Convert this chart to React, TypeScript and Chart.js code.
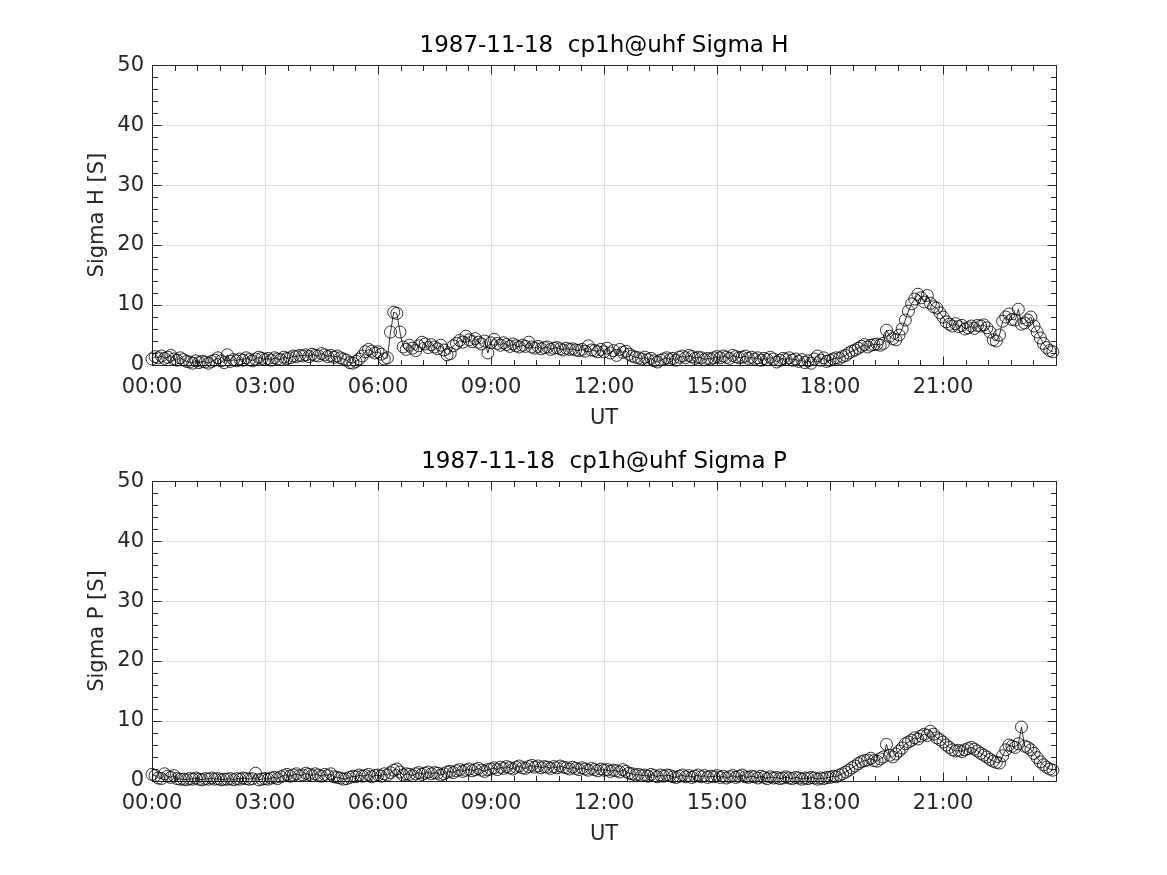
import React, { useEffect, useRef } from 'react';
import { Chart, registerables } from 'chart.js';

Chart.register(...registerables);

// 5-minute samples, 00:00 .. 23:55 UT
const SAMPLE_MINUTES = 5;

const sigmaH: number[] = [
  1.0, 1.4, 1.2, 1.5, 1.1, 1.3, 1.6, 1.0, 0.8, 1.2, 0.9, 0.6,
  0.5, 0.3, 0.7, 0.4, 0.6, 0.5, 0.3, 0.6, 0.8, 1.2, 0.7, 0.4,
  1.7, 0.6, 0.9, 0.7, 1.0, 0.8, 1.2, 0.9, 0.7, 1.0, 1.3, 1.1,
  0.9, 1.1, 0.8, 1.2, 1.0, 0.9, 1.3, 1.1, 1.2, 1.5, 1.4, 1.6,
  1.5, 1.7, 1.4, 1.8, 1.6, 1.5, 1.9, 1.7, 1.4, 1.6, 1.3, 1.5,
  1.2, 1.0, 0.8, 0.4, 0.3, 0.6, 1.0, 1.5, 2.2, 2.6, 2.3, 2.0,
  2.2, 1.8, 1.0, 1.2, 5.5, 8.8, 8.6, 5.5, 3.0, 2.6, 3.3, 2.8,
  2.4, 3.2, 3.8, 3.5, 2.9, 3.4, 3.0, 2.7, 3.3, 2.5, 1.7, 1.9,
  3.2, 3.6, 4.1, 3.8, 4.8, 4.2, 3.9, 4.4, 3.8, 3.5, 4.0, 2.0,
  3.7, 4.3, 3.6, 3.3, 3.7, 3.4, 3.1, 3.5, 3.2, 3.0, 3.3, 3.1,
  3.8, 3.0, 2.8, 3.1, 2.7, 2.9, 3.0, 2.6, 2.8, 2.9, 2.7, 2.5,
  2.8, 2.6, 2.7, 2.5, 2.4, 2.6, 2.3, 3.2, 2.5, 2.4, 2.2, 2.6,
  2.2, 2.8, 2.0, 2.4, 1.6, 2.6, 2.1, 2.3, 1.8, 1.5, 1.3, 1.2,
  1.0, 1.3, 0.9, 1.1, 0.7, 0.5, 0.8, 1.0, 1.2, 0.9, 1.1, 0.8,
  1.3, 1.5, 1.2, 1.6, 1.4, 1.1, 1.3, 1.2, 0.9, 1.1, 1.0, 1.2,
  1.4, 1.2, 1.5, 1.3, 1.1, 1.6, 1.4, 1.2, 1.3, 1.5, 1.1, 1.3,
  1.0, 1.2, 0.8, 1.1, 0.9, 1.3, 1.0, 0.5, 0.8, 1.1, 0.9, 1.2,
  0.8, 1.0, 0.6, 0.9, 0.4, 0.7, 0.3, 1.0, 1.5, 0.8, 1.2, 0.6,
  0.8, 1.0, 1.2, 1.1, 1.4, 1.6, 2.0, 2.3, 2.5, 2.8, 3.1, 3.4,
  3.0, 3.3, 3.4, 3.5, 3.3, 3.6, 5.8, 4.8, 4.4, 4.2, 5.0, 6.0,
  7.5, 9.0, 10.2, 11.0, 11.8, 11.2, 10.5, 11.6, 10.3, 9.7, 9.5, 8.7,
  8.0, 7.2, 6.8, 6.5, 6.9, 6.4, 6.6, 6.0, 6.2, 6.5, 6.1, 6.6,
  6.5, 6.7, 6.2, 5.5, 4.2, 4.0, 5.0, 7.3, 8.0, 8.5, 7.6, 7.5,
  9.3, 6.8, 7.0, 7.5, 8.0, 6.5, 5.5, 4.5, 3.6, 2.9, 2.4, 2.2,
];

const sigmaP: number[] = [
  1.1, 0.9, 0.5, 0.4, 1.2, 0.8, 0.6, 0.9, 0.4, 0.3, 0.3, 0.2,
  0.4, 0.3, 0.5, 0.3, 0.2, 0.4, 0.3, 0.5, 0.3, 0.4, 0.2, 0.3,
  0.3, 0.4, 0.2, 0.4, 0.3, 0.5, 0.4, 0.3, 0.4, 1.3, 0.2, 0.3,
  0.4, 0.3, 0.5, 0.6, 0.4, 0.7, 0.9, 1.1, 0.8, 1.0, 1.2, 0.9,
  1.0, 1.3, 1.1, 0.9, 1.2, 1.0, 0.8, 1.1, 0.9, 1.2, 0.7, 0.6,
  0.5, 0.3, 0.4, 0.6, 0.8, 0.7, 1.0, 0.8, 0.9, 1.1, 0.7, 0.9,
  1.0, 0.8, 1.2, 1.0, 1.4, 1.8, 2.0, 1.5, 1.0, 1.2, 1.1, 0.9,
  1.2, 1.4, 1.1, 1.3, 1.5, 1.2, 1.4, 1.3, 1.0, 1.2, 1.5, 1.6,
  1.4, 1.7, 1.9, 1.6, 1.8, 2.0, 1.7, 1.9, 2.1, 1.8, 1.6, 1.9,
  2.0, 2.2, 1.9, 2.3, 2.1, 2.4, 2.2, 2.0, 2.3, 2.5, 2.2, 2.1,
  2.4, 2.6, 2.3, 2.5, 2.2, 2.4, 2.3, 2.1, 2.4, 2.2, 2.5, 2.3,
  2.2, 2.0, 2.3, 2.1, 1.9, 2.2, 2.0, 1.8, 2.1, 1.9, 1.7, 2.0,
  1.8, 1.9, 1.6, 1.8, 1.7, 1.5, 1.9, 1.6, 1.3, 1.2, 1.0, 1.1,
  0.9, 1.0, 0.8, 1.1, 0.9, 0.7, 1.0, 0.8, 1.0, 0.9, 0.7, 0.6,
  0.8, 1.0, 0.7, 0.9, 0.6, 0.8, 1.0, 0.7, 0.9, 0.6, 0.8, 0.7,
  0.9, 0.6, 0.8, 0.5, 0.7, 0.9, 0.6, 0.8, 1.0, 0.7, 0.6, 0.8,
  0.7, 0.5, 0.8, 0.6, 0.4, 0.7, 0.5, 0.6, 0.4, 0.5, 0.7, 0.5,
  0.4, 0.6, 0.5, 0.3, 0.5, 0.4, 0.6, 0.5, 0.3, 0.5, 0.4, 0.6,
  0.6, 0.8, 0.7, 1.0, 1.2, 1.5, 1.8, 2.2, 2.5, 2.9, 3.2, 3.4,
  3.5, 3.8, 3.4, 3.3, 3.7, 4.0, 6.1, 4.3, 4.0, 4.5, 5.0, 5.5,
  6.2, 6.5, 6.8, 7.2, 7.0, 7.5, 7.8, 7.6, 8.3, 7.8, 7.2, 6.9,
  6.5, 6.0, 5.6, 5.2, 5.0, 5.1, 4.9, 5.2, 5.4, 5.6, 5.3, 5.0,
  4.6, 4.3, 4.0, 3.6, 3.3, 3.1, 3.0, 4.2, 5.2, 6.0, 5.8, 5.6,
  6.2, 9.0, 5.8, 5.6, 5.2, 4.6, 3.9, 3.2, 2.7, 2.3, 2.0, 1.8,
];

const xTickHours: number[] = [0, 3, 6, 9, 12, 15, 18, 21];
const xTickLabels: string[] = ['00:00', '03:00', '06:00', '09:00', '12:00', '15:00', '18:00', '21:00'];
const X_MIN = 0;
const X_MAX = 24;
const X_MINOR_STEP = 0.6;
const Y_MIN = 0;
const Y_MAX = 50;
const Y_STEP = 10;
const Y_MINOR_STEP = 2;

const titleTop = '1987-11-18  cp1h@uhf Sigma H';
const titleBottom = '1987-11-18  cp1h@uhf Sigma P';
const yLabelTop = 'Sigma H [S]';
const yLabelBottom = 'Sigma P [S]';
const xLabel = 'UT';

const FONT = 'DejaVu Sans';
const AXIS_COLOR = '#262626';
const GRID_COLOR = '#dfdfdf';
const W = 1167;
const H = 437;

const framePlugin = {
  id: 'matlabFrame',
  beforeDatasetsDraw(chart: any) {
    const { ctx, chartArea: a, scales } = chart;
    const xs = scales.x;
    const ys = scales.y;
    const L = Math.round(a.left) + 0.5;
    const R = Math.round(a.right) + 0.5;
    const T = Math.round(a.top) + 0.5;
    const B = Math.round(a.bottom) + 0.5;
    ctx.save();
    ctx.strokeStyle = AXIS_COLOR;
    ctx.lineWidth = 1;
    ctx.beginPath();
    ctx.moveTo(L, T);
    ctx.lineTo(R, T);
    ctx.lineTo(R, B);
    ctx.lineTo(L, B);
    ctx.closePath();
    const nx = Math.round((X_MAX - X_MIN) / X_MINOR_STEP);
    for (let k = 0; k <= nx; k++) {
      const v = X_MIN + k * X_MINOR_STEP;
      const major = k % 5 === 0;
      const len = major ? 9 : 5.5;
      const px = Math.round(xs.getPixelForValue(v)) + 0.5;
      ctx.moveTo(px, B);
      ctx.lineTo(px, B - len);
      ctx.moveTo(px, T);
      ctx.lineTo(px, T + len);
    }
    const ny = Math.round((Y_MAX - Y_MIN) / Y_MINOR_STEP);
    for (let k = 0; k <= ny; k++) {
      const v = Y_MIN + k * Y_MINOR_STEP;
      const major = k % 5 === 0;
      const len = major ? 9 : 5.5;
      const py = Math.round(ys.getPixelForValue(v)) + 0.5;
      ctx.moveTo(L, py);
      ctx.lineTo(L + len, py);
      ctx.moveTo(R, py);
      ctx.lineTo(R - len, py);
    }
    ctx.stroke();
    ctx.restore();
  },
};

function makeConfig(values: number[], title: string, yLabel: string): any {
  const points = values.map((v, i) => ({ x: (i * SAMPLE_MINUTES) / 60, y: v }));
  return {
    type: 'line',
    data: {
      datasets: [
        {
          data: points,
          borderColor: '#000000',
          borderWidth: 0.8,
          pointRadius: 6,
          pointBorderWidth: 0.8,
          pointBorderColor: '#000000',
          pointBackgroundColor: 'rgba(0,0,0,0)',
          pointStyle: 'circle',
          fill: false,
          tension: 0,
          clip: false,
        },
      ],
    },
    options: {
      responsive: false,
      animation: false,
      devicePixelRatio: 1,
      layout: { padding: { left: 85, right: W - 1056, top: 32.5, bottom: 5.4 } },
      plugins: {
        legend: { display: false },
        tooltip: { enabled: false },
        title: {
          display: true,
          text: title,
          color: '#000000',
          fullSize: false,
          font: { family: FONT, size: 23, weight: 'normal' },
          padding: { top: 0, bottom: 5 },
        },
      },
      scales: {
        x: {
          type: 'linear',
          min: X_MIN,
          max: X_MAX,
          afterBuildTicks: (s: any) => {
            s.ticks = xTickHours.map((v) => ({ value: v }));
          },
          afterFit: (s: any) => {
            s.height = 66.6;
          },
          ticks: {
            autoSkip: false,
            maxRotation: 0,
            padding: 10,
            color: AXIS_COLOR,
            font: { family: FONT, size: 21 },
            callback: (v: number) => {
              const i = xTickHours.indexOf(v);
              return i >= 0 ? xTickLabels[i] : '';
            },
          },
          grid: { color: GRID_COLOR, lineWidth: 1, drawTicks: false },
          border: { display: false },
          title: {
            display: true,
            text: xLabel,
            color: AXIS_COLOR,
            font: { family: FONT, size: 21 },
            padding: 0,
          },
        },
        y: {
          type: 'linear',
          min: Y_MIN,
          max: Y_MAX,
          afterFit: (s: any) => {
            s.width = 67;
          },
          ticks: {
            stepSize: Y_STEP,
            padding: 8,
            color: AXIS_COLOR,
            font: { family: FONT, size: 21 },
          },
          grid: { color: GRID_COLOR, lineWidth: 1, drawTicks: false },
          border: { display: false },
          title: {
            display: true,
            text: yLabel,
            color: AXIS_COLOR,
            font: { family: FONT, size: 21 },
            padding: 0,
          },
        },
      },
    },
    plugins: [framePlugin],
  };
}

function Panel(props: { values: number[]; title: string; yLabel: string; top: number }) {
  const ref = useRef<HTMLCanvasElement | null>(null);
  useEffect(() => {
    if (!ref.current) return;
    const chart = new Chart(ref.current, makeConfig(props.values, props.title, props.yLabel));
    return () => chart.destroy();
  }, [props.values, props.title, props.yLabel]);
  return (
    <canvas
      ref={ref}
      width={W}
      height={H}
      style={{ position: 'absolute', left: 0, top: props.top, width: W, height: H, display: 'block' }}
    />
  );
}

export default function App() {
  return (
    <div style={{ position: 'absolute', left: 0, top: 0, width: W, height: 875, background: '#ffffff', overflow: 'hidden' }}>
      <Panel values={sigmaH} title={titleTop} yLabel={yLabelTop} top={0} />
      <Panel values={sigmaP} title={titleBottom} yLabel={yLabelBottom} top={416} />
    </div>
  );
}
